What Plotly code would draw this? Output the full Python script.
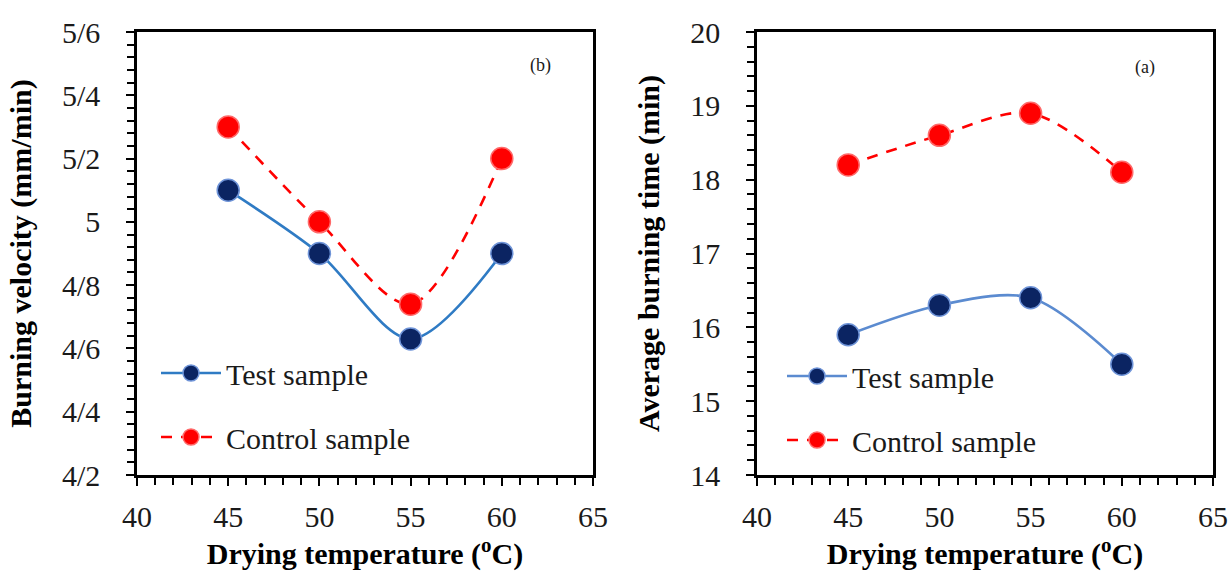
import plotly.graph_objects as go

# Drying temperatures (°C)
temperature = [45, 50, 55, 60]

# (b) burning velocity, mm/min
velocity_test = [5.10, 4.90, 4.63, 4.90]
velocity_control = [5.30, 5.00, 4.74, 5.20]

# (a) average burning time, min
time_test = [15.9, 16.3, 16.4, 15.5]
time_control = [18.2, 18.6, 18.9, 18.1]

# Velocity tick labels use the slash as decimal separator
velocity_ticks = [4.2, 4.4, 4.6, 4.8, 5.0, 5.2, 5.4, 5.6]
velocity_ticktext = ["4/2", "4/4", "4/6", "4/8", "5", "5/2", "5/4", "5/6"]
time_ticks = [14, 15, 16, 17, 18, 19, 20]
temp_ticks = [40, 45, 50, 55, 60, 65]

FONT = "Liberation Serif, Times New Roman, serif"
W, H = 1231, 578

NAVY = "#0b2462"
RED = "#ff0000"
TEXT = "#1a1a1a"

fig = go.Figure()


def add_series(x, y, xa, ya, legend, left_panel):
    test_line = "#2f7bc4" if left_panel else "#5b8bd0"
    fig.add_trace(go.Scatter(
        x=x, y=y[0], xaxis=xa, yaxis=ya, name="Test sample",
        mode="lines+markers", legend=legend, legendgroup=legend + "t",
        line=dict(color=test_line, width=2.6, shape="spline", smoothing=0.9),
        marker=dict(size=22, color=NAVY, line=dict(color="#6f94d8", width=1.5)),
    ))
    fig.add_trace(go.Scatter(
        x=x, y=y[1], xaxis=xa, yaxis=ya, name="Control sample",
        mode="lines+markers", legend=legend, legendgroup=legend + "c",
        line=dict(color=RED, width=2.6, dash="11px,9px", shape="spline", smoothing=0.9),
        marker=dict(size=22, color=RED, line=dict(color="#ff6a6a", width=1.5)),
    ))


add_series(temperature, (velocity_test, velocity_control), "x", "y", "legend", True)
add_series(temperature, (time_test, time_control), "x2", "y2", "legend2", False)

axis_common = dict(
    showline=True, linecolor="black", linewidth=2.5, mirror=True,
    ticks="outside", ticklen=8, tickwidth=2, tickcolor="black",
    showgrid=False, zeroline=False, automargin=False,
    tickfont=dict(family=FONT, size=30, color=TEXT),
)

x_common = dict(
    axis_common, range=[40, 65], tickvals=temp_ticks, ticklabelstandoff=5,
    minor=dict(dtick=1, ticks="outside", ticklen=7, tickwidth=2, tickcolor="black"),
    title=dict(text="Drying temperature (<sup>o</sup>C)", standoff=12,
               font=dict(family=FONT, size=30, color="black", weight="bold")),
)

left_dom = [137 / W, 593 / W]
right_dom = [757 / W, 1213 / W]
y_dom = [(H - 475) / H, (H - 32) / H]

fig.update_layout(
    width=W, height=H,
    margin=dict(l=0, r=0, t=0, b=0),
    paper_bgcolor="white", plot_bgcolor="white",
    showlegend=True,
    xaxis=dict(x_common, domain=left_dom, anchor="y"),
    xaxis2=dict(x_common, domain=right_dom, anchor="y2"),
    yaxis=dict(
        axis_common, domain=y_dom, anchor="x", range=[4.2, 5.6],
        tickvals=velocity_ticks, ticktext=velocity_ticktext, ticklabelstandoff=20,
        minor=dict(dtick=0.04, ticks="outside", ticklen=7, tickwidth=2, tickcolor="black"),
        title=dict(text="Burning velocity (mm/min)", standoff=22,
                   font=dict(family=FONT, size=30, color="black", weight="bold")),
    ),
    yaxis2=dict(
        axis_common, domain=y_dom, anchor="x2", range=[14, 20],
        tickvals=time_ticks, ticklabelstandoff=20,
        minor=dict(dtick=0.2, ticks="outside", ticklen=7, tickwidth=2, tickcolor="black"),
        title=dict(text="Average burning time (min)", standoff=22,
                   font=dict(family=FONT, size=30, color="black", weight="bold")),
    ),
    legend=dict(
        x=156 / W, y=(H - 347) / H, xanchor="left", yanchor="top",
        bgcolor="rgba(0,0,0,0)", traceorder="grouped", tracegroupgap=22,
        font=dict(family=FONT, size=30, color=TEXT), itemwidth=60,
    ),
    legend2=dict(
        x=782 / W, y=(H - 350) / H, xanchor="left", yanchor="top",
        bgcolor="rgba(0,0,0,0)", traceorder="grouped", tracegroupgap=22,
        font=dict(family=FONT, size=30, color=TEXT), itemwidth=60,
    ),
    annotations=[
        dict(text="(b)", xref="paper", yref="paper", x=540 / W, y=(H - 53) / H,
             showarrow=False, font=dict(family=FONT, size=18, color=TEXT)),
        dict(text="(a)", xref="paper", yref="paper", x=1157 / W, y=(H - 55) / H,
             showarrow=False, font=dict(family=FONT, size=18, color=TEXT)),
    ],
)

fig.write_html("out.html")
